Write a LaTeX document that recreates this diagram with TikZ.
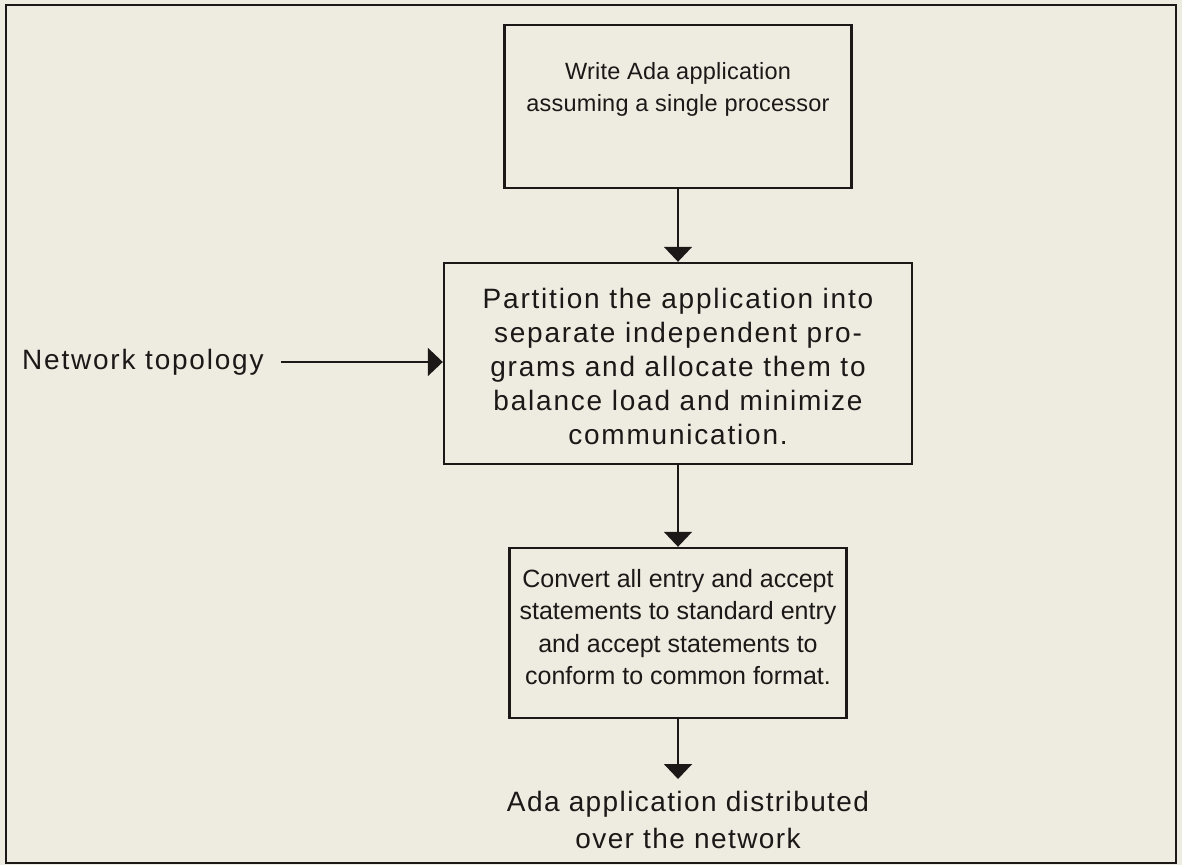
\documentclass[tikz,border=0pt]{standalone}
\usepackage{fontspec}
\setmainfont{Liberation Sans}
\usetikzlibrary{arrows.meta}
\definecolor{paper}{RGB}{238,236,224}
\definecolor{ink}{RGB}{28,24,24}
\begin{document}
\begin{tikzpicture}[x=1pt,y=-1pt,
  box/.style={draw=ink,line width=2.4pt,inner sep=0pt},
  txt/.style={inner sep=0pt,align=center,text=ink,font=\fontsize{28}{34}\selectfont\addfontfeature{LetterSpace=6.4}},
  small/.style={font=\fontsize{25}{32.5}\selectfont},
  smaller/.style={font=\fontsize{23.5}{32}\selectfont\addfontfeature{LetterSpace=1}},
  arr/.style={draw=ink,line width=2pt,-{Triangle[length=15pt,width=28pt]}}]
\useasboundingbox (0,0) rectangle (1182,865);
\fill[paper] (0,0) rectangle (1182,865);
\draw[ink,line width=2.6pt] (6,5) rectangle (1176,863);
% boxes
\node[box,minimum width=347pt,minimum height=163pt] (b1) at (678,106.5) {};
\node[txt,smaller] (t1) at (678,89) {Write Ada application\\assuming a single processor};
\node[box,minimum width=468pt,minimum height=201pt] (b2) at (678,363.5) {};
\node[txt] (t2) at (678,366) {Partition the application into\\separate independent pro-\\grams and allocate them to\\balance load and minimize\\communication.};
\node[box,minimum width=337pt,minimum height=170pt] (b3) at (678,633) {};
\node[txt,small] (t3) at (678,627) {Convert all entry and accept\\statements to standard entry\\and accept statements to\\conform to common format.};
\node[txt,font=\fontsize{28}{37}\selectfont\addfontfeature{LetterSpace=5}] (out) at (688,820) {Ada application distributed\\over the network};
\coordinate (end) at (678,779);
\node[txt,anchor=west] (nt) at (22,362) {Network topology};
% connectors
\draw[arr] (b1.south) -- (b2.north);
\draw[arr] (b2.south) -- (b3.north);
\draw[arr] (b3.south) -- (end);
\draw[arr,shorten <=17pt] (nt.east) -- (nt.east -| b2.west);
\end{tikzpicture}
\end{document}
